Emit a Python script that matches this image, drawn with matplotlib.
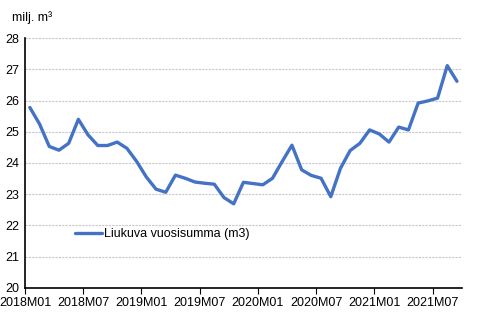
import matplotlib
matplotlib.use("Agg")
import matplotlib.pyplot as plt

# kuukausittainen liukuva vuosisumma, milj. m3 (2018M01 - 2021M09)
months = ["2018M%02d" % m for m in range(1, 13)] + \
         ["2019M%02d" % m for m in range(1, 13)] + \
         ["2020M%02d" % m for m in range(1, 13)] + \
         ["2021M%02d" % m for m in range(1, 10)]
values = [25.78, 25.25, 24.53, 24.41, 24.63, 25.40, 24.90, 24.56, 24.56, 24.67,
          24.47, 24.05, 23.55, 23.16, 23.06, 23.61, 23.51, 23.39, 23.35, 23.32,
          22.89, 22.69, 23.38, 23.34, 23.30, 23.51, 24.05, 24.57, 23.78, 23.60,
          23.51, 22.92, 23.83, 24.40, 24.63, 25.06, 24.93, 24.67, 25.15, 25.06,
          25.92, 25.99, 26.08, 27.12, 26.62]
series_name = "Liukuva vuosisumma (m3)"
tick_labels = ["2018M01", "2018M07", "2019M01", "2019M07",
               "2020M01", "2020M07", "2021M01", "2021M07"]

plt.rcParams["font.family"] = ["Liberation Sans", "DejaVu Sans"]

fig = plt.figure(figsize=(4.87, 3.24), dpi=100)
ax = fig.add_axes([0.0513, 0.112, 0.897, 0.770])

x = list(range(len(values)))
ax.plot(x, values, color="#4472C4", lw=2.4, label=series_name,
        solid_joinstyle="round", solid_capstyle="round")

ax.set_xlim(-0.5, len(values) - 0.5)
ax.set_ylim(20, 28)
ax.set_yticks(range(20, 29))
ax.tick_params(axis="y", length=0, labelsize=9, pad=4)

tick_pos = [months.index(t) - 0.5 for t in tick_labels]
ax.set_xticks(tick_pos)
ax.set_xticklabels(tick_labels)
ax.tick_params(axis="x", length=4, direction="out", labelsize=9, pad=3)

ax.grid(axis="y", color="#C8C8C8", linestyle=(0, (2, 1)), lw=0.8)
ax.set_axisbelow(True)
for s in ["top", "right"]:
    ax.spines[s].set_visible(False)
for s in ["left", "bottom"]:
    ax.spines[s].set_color("black")
    ax.spines[s].set_linewidth(1.2)

ax.legend(loc="center left", bbox_to_anchor=(0.114, 0.214), frameon=False,
          fontsize=9, handlelength=2.15, handletextpad=0.2,
          borderaxespad=0, borderpad=0)

fig.text(0.025, 0.945, "milj. m³", fontsize=9, ha="left", va="center")

fig.savefig("out.png", dpi=100)
